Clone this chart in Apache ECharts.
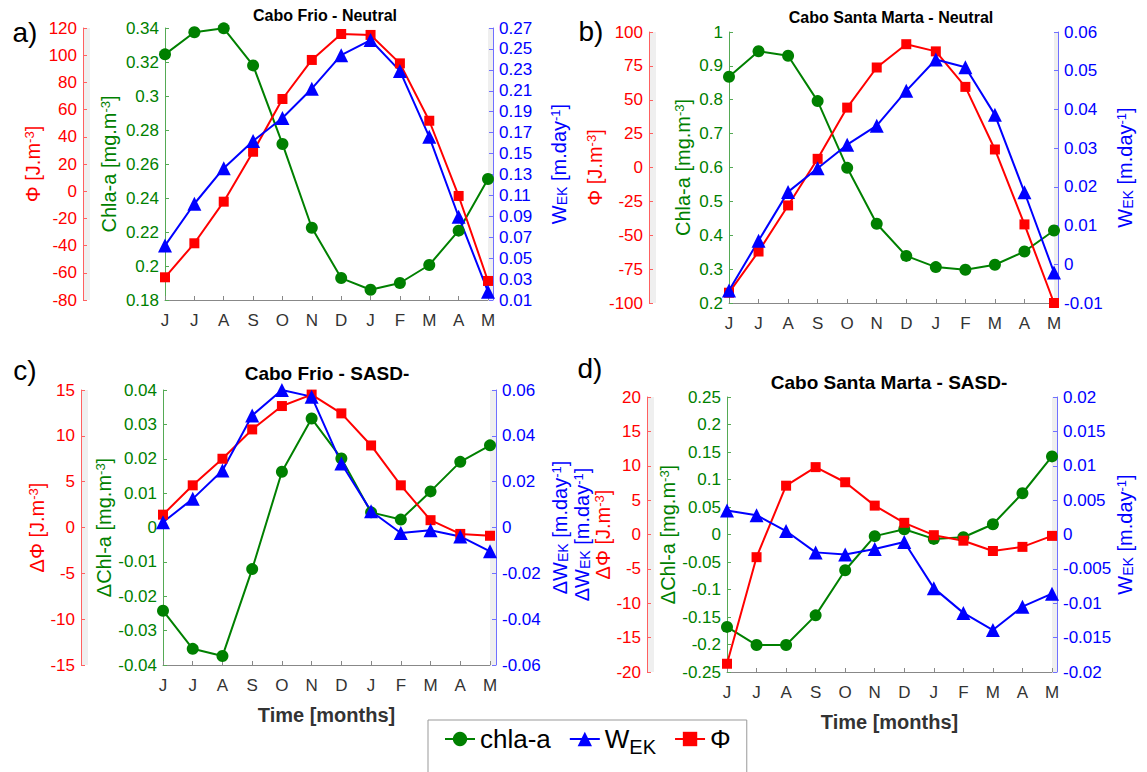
<!DOCTYPE html>
<html>
<head>
<meta charset="utf-8">
<script src="https://cdn.jsdelivr.net/npm/echarts@6/dist/echarts.min.js"></script>
<style>
html, body { margin: 0; padding: 0; background: #fff; }
#chart { width: 1147px; height: 772px; }
</style>
</head>
<body>
<div id="chart"></div>
<script>
// months June -> May
const months = ['J', 'J', 'A', 'S', 'O', 'N', 'D', 'J', 'F', 'M', 'A', 'M'];

// a) Cabo Frio - Neutral
const chlaA = [0.3245, 0.3375, 0.3398, 0.318, 0.2718, 0.2225, 0.1929, 0.186, 0.19, 0.2006, 0.2208, 0.2512];
const wekA = [0.062, 0.102, 0.136, 0.162, 0.184, 0.212, 0.244, 0.2585, 0.229, 0.166, 0.0896, 0.018];
const phiA = [-63.3, -38.3, -7.7, 29, 67.8, 96.5, 115.6, 114.9, 94, 51.8, -3.5, -66];

// b) Cabo Santa Marta - Neutral
const chlaB = [0.868, 0.943, 0.93, 0.796, 0.599, 0.434, 0.339, 0.306, 0.298, 0.313, 0.352, 0.414];
const wekB = [-0.0068, 0.0061, 0.0187, 0.0248, 0.0309, 0.0358, 0.0448, 0.0529, 0.0509, 0.0386, 0.0186, -0.0021];
const phiB = [-92.4, -62, -28, 6.4, 44.2, 73.8, 91, 85.7, 59.5, 13.3, -42, -100];

// c) Cabo Frio - SASD-
const chlaC = [-0.0242, -0.0353, -0.0374, -0.0121, 0.0162, 0.0317, 0.0201, 0.0044, 0.0023, 0.0105, 0.0191, 0.0239];
const wekC = [0.0023, 0.0125, 0.0249, 0.0489, 0.06, 0.0571, 0.0279, 0.0071, -0.0024, -0.0012, -0.0039, -0.0104];
const phiC = [1.4, 4.6, 7.5, 10.7, 13.25, 14.5, 12.45, 8.95, 4.6, 0.8, -0.7, -0.9];

// d) Cabo Santa Marta - SASD-
const chlaD = [-0.168, -0.201, -0.201, -0.147, -0.065, -0.003, 0.0095, -0.008, -0.005, 0.0186, 0.075, 0.142];
const wekD = [0.0035, 0.0028, 0.0005, -0.0026, -0.0029, -0.0021, -0.0011, -0.0078, -0.0114, -0.0139, -0.0105, -0.0086];
const phiD = [-18.8, -3.3, 7.1, 9.8, 7.6, 4.2, 1.7, -0.1, -0.9, -2.4, -1.8, -0.2];

// axis ticks: [min, max, step]
const chlaTicks = [[0.18, 0.34, 0.02], [0.2, 1, 0.1], [-0.04, 0.04, 0.01], [-0.25, 0.25, 0.05]];
const phiTicks = [[-80, 120, 20], [-100, 100, 25], [-15, 15, 5], [-20, 20, 5]];
const wekTicks = [[0.01, 0.27, 0.02], [-0.01, 0.06, 0.01], [-0.06, 0.06, 0.02], [-0.02, 0.02, 0.005]];

const titles = ['Cabo Frio - Neutral', 'Cabo Santa Marta - Neutral', 'Cabo Frio - SASD-', 'Cabo Santa Marta - SASD-'];
const tags = ['a)', 'b)', 'c)', 'd)'];
const chlaAll = [chlaA, chlaB, chlaC, chlaD];
const wekAll = [wekA, wekB, wekC, wekD];
const phiAll = [phiA, phiB, phiC, phiD];

// layout of each panel (pixels)
const layout = [
  { left: 165, top: 28, width: 323, height: 272, redOff: 82, blueOff: 5, gap: [46, 40, 56], tx: 325, ty: 15, tfs: 16, lx: 25, ly: 32 },
  { left: 729, top: 32, width: 325, height: 271, redOff: 80, blueOff: 4, gap: [36, 43, 57], tx: 891, ty: 17, tfs: 16, lx: 591, ly: 31 },
  { left: 163, top: 390, width: 327, height: 275, redOff: 82, blueOff: 6, gap: [49, 34, 54], tx: 327, ty: 373, tfs: 19, lx: 25, ly: 370 },
  { left: 727, top: 397, width: 325, height: 275, redOff: 80, blueOff: 5, gap: [49, 34, 58], tx: 889, ty: 382, tfs: 19, lx: 590, ly: 368 }
];

const RED = '#ff0000', GREEN = '#008000', BLUE = '#0000ff';
const FONT = '"Liberation Sans", Arial, sans-serif';

function rich(color) {
  return {
    sup: { fontSize: 13, verticalAlign: 'top', color: color, fontFamily: FONT },
    sub: { fontSize: 14, verticalAlign: 'bottom', color: color, fontFamily: FONT }
  };
}

function yAx(grid, pos, off, t, color, lineColor, name, gap) {
  return {
    type: 'value', gridIndex: grid, position: pos, offset: off,
    min: t[0], max: t[1], interval: t[2],
    axisLine: { show: true, onZero: false, lineStyle: { color: lineColor, width: 1 } },
    axisTick: { show: true, inside: true, length: 4, lineStyle: { color: lineColor } },
    axisLabel: {
      color: color, fontSize: 17, margin: 6, showMinLabel: true, showMaxLabel: true,
      formatter: function (v) { return String(+v.toFixed(4)); }
    },
    splitLine: { show: false },
    name: name, nameLocation: 'middle', nameGap: gap,
    nameTextStyle: { color: color, fontSize: 20, rich: rich(color) }
  };
}

let grids = [], xAxes = [], yAxes = [], series = [], graphics = [];

layout.forEach(function (L, i) {
  const delta = i >= 2 ? '\u0394' : '';
  grids.push({ left: L.left, top: L.top, width: L.width, height: L.height });
  xAxes.push({
    type: 'category', gridIndex: i, data: months, boundaryGap: false,
    axisLine: { onZero: false, lineStyle: { color: '#888' } },
    axisTick: { inside: true, length: 4, interval: 0, lineStyle: { color: '#888' } },
    axisLabel: { color: '#333', fontSize: 17, margin: 12, interval: 0 },
    name: i >= 2 ? 'Time [months]' : '', nameLocation: 'middle', nameGap: 40,
    nameTextStyle: { color: '#333', fontSize: 20, fontWeight: 'bold' }
  });
  yAxes.push(yAx(i, 'left', 0, chlaTicks[i], GREEN, '#55aa55',
    delta + (i >= 2 ? 'Chl-a' : 'Chla-a') + ' [mg.m{sup|-3}]', L.gap[0]));
  yAxes.push(yAx(i, 'left', L.redOff, phiTicks[i], RED, '#ff6060',
    delta + '\u03a6 [J.m{sup|-3}]', L.gap[1]));
  yAxes.push(yAx(i, 'right', L.blueOff, wekTicks[i], BLUE, '#7070ff',
    (i === 2 ? '\u0394' : '') + 'W{sub|EK} [m.day{sup|-1}]', L.gap[2]));

  series.push({
    name: 'chla-a', type: 'line', xAxisIndex: i, yAxisIndex: 3 * i, data: chlaAll[i],
    color: GREEN, symbol: 'circle', symbolSize: 12, lineStyle: { width: 2 }, clip: false
  });
  series.push({
    name: '\u03a6', type: 'line', xAxisIndex: i, yAxisIndex: 3 * i + 1, data: phiAll[i],
    color: RED, symbol: 'rect', symbolSize: 10, lineStyle: { width: 2 }, clip: false
  });
  series.push({
    name: 'WEK', type: 'line', xAxisIndex: i, yAxisIndex: 3 * i + 2, data: wekAll[i],
    color: BLUE, symbol: 'triangle', symbolSize: 14, lineStyle: { width: 2 }, clip: false
  });

  // light grey strips beside the outer axes
  graphics.push({ type: 'rect', z: -10, shape: { x: L.left - L.redOff + 1, y: L.top, width: 6, height: L.height }, style: { fill: '#efefef' } });
  graphics.push({ type: 'rect', z: -10, shape: { x: L.left + L.width, y: L.top, width: L.blueOff, height: L.height }, style: { fill: '#efefef' } });
  graphics.push({ type: 'text', x: L.tx, y: L.ty, style: { text: titles[i], font: 'bold ' + L.tfs + 'px ' + FONT, fill: '#000', textAlign: 'center', textVerticalAlign: 'middle' } });
  graphics.push({ type: 'text', x: L.lx, y: L.ly, style: { text: tags[i], font: '28px ' + FONT, fill: '#000', textAlign: 'center', textVerticalAlign: 'middle' } });
});

// stray delta W_EK label on the left of panel d
yAxes.push({
  type: 'value', gridIndex: 3, position: 'left', offset: 0, min: -1, max: 1,
  axisLine: { show: false }, axisTick: { show: false }, axisLabel: { show: false }, splitLine: { show: false },
  name: '\u0394W{sub|EK} [m.day{sup|-1}]', nameLocation: 'middle', nameGap: 135,
  nameTextStyle: { color: BLUE, fontSize: 20, rich: rich(BLUE) }
});

const chart = echarts.init(document.getElementById('chart'), null, { renderer: 'svg' });
chart.setOption({
  backgroundColor: '#fff',
  animation: false,
  textStyle: { fontFamily: FONT },
  grid: grids,
  xAxis: xAxes,
  yAxis: yAxes,
  series: series,
  graphic: graphics,
  legend: {
    data: ['chla-a', 'WEK', '\u03a6'],
    left: 428, top: 720,
    itemWidth: 30, itemHeight: 18, itemGap: 18,
    padding: [6, 16, 30, 16],
    borderColor: '#999', borderWidth: 1,
    textStyle: {
      fontSize: 26, color: '#000',
      rich: { sub: { fontSize: 20, color: '#000', verticalAlign: 'bottom', padding: [16, 0, 0, 0] } }
    },
    formatter: function (n) { return n === 'WEK' ? 'W{sub|EK}' : n; }
  }
});
window.addEventListener('resize', function () { chart.resize(); });
</script>
</body>
</html>
